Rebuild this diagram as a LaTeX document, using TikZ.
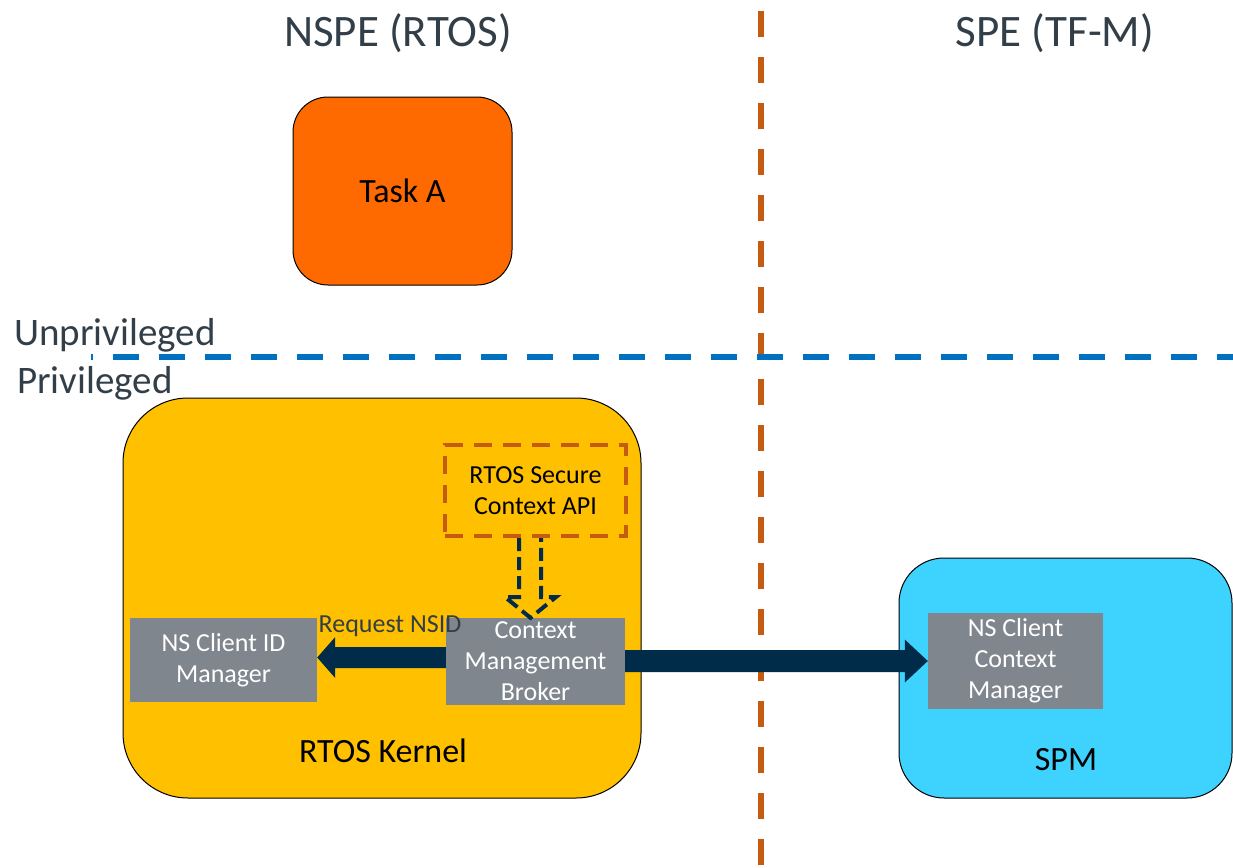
\documentclass[tikz,border=0pt]{standalone}
\usepackage{fontspec}
\setmainfont{Carlito}
\usetikzlibrary{calc}

\definecolor{titlegray}{RGB}{50,62,72}
\definecolor{taskorange}{RGB}{255,106,0}
\definecolor{kernelyellow}{RGB}{255,192,0}
\definecolor{spmcyan}{RGB}{62,210,255}
\definecolor{boxgray}{RGB}{127,134,142}
\definecolor{navy}{RGB}{0,43,73}
\definecolor{rustorange}{RGB}{197,90,17}
\definecolor{lineblue}{RGB}{0,112,192}

% horizontal block arrow: #1 start, #2 tip, #3 shaft half-height,
% #4 head length, #5 head half-height
\newcommand\blockarrow[5]{%
  \fill[navy] ($(#1)+(0,-#3)$) -- ($(#2)!#4!(#1)+(0,-#3)$)
    -- ($(#2)!#4!(#1)+(0,-#5)$) -- (#2)
    -- ($(#2)!#4!(#1)+(0,#5)$) -- ($(#2)!#4!(#1)+(0,#3)$)
    -- ($(#1)+(0,#3)$) -- cycle;}

\begin{document}
\begin{tikzpicture}[x=1pt,y=-1pt,
  heading/.style={text=titlegray,font=\fontsize{45}{52}\selectfont,inner sep=0pt,anchor=base},
  sidelabel/.style={text=titlegray,font=\fontsize{39}{45}\selectfont,inner sep=0pt,anchor=base west},
  region/.style={draw=black,line width=1pt},
  regionlabel/.style={font=\fontsize{34}{40}\selectfont,inner sep=0pt,anchor=base},
  graybox/.style={fill=boxgray,text=white,font=\fontsize{26}{31}\selectfont,align=center,inner sep=0pt},
  apibox/.style={draw=rustorange,line width=4pt,dash pattern=on 18pt off 11pt,
    font=\fontsize{26}{31}\selectfont,align=center,inner sep=0pt},
  privline/.style={draw=lineblue,line width=6pt,dash pattern=on 26pt off 20pt,dash phase=24pt},
  worldline/.style={draw=rustorange,line width=6pt,dash pattern=on 26pt off 20pt},
  hollowarrow/.style={draw=navy,line width=4pt,dash pattern=on 13pt off 6pt,line join=miter},
  arrowlabel/.style={text=titlegray,font=\fontsize{26}{31}\selectfont,inner sep=0pt,anchor=base}
]
\useasboundingbox (0,0) rectangle (1233,867);

% world separators
\draw[worldline] (761,11) -- (761,867);
\draw[privline] (91,357) -- (1233,357);

% headings
\node[heading] (nspe) at (398,47) {NSPE (RTOS)};
\node[heading] (spe) at (1055,47) {SPE (TF-M)};
\node[sidelabel] (unpriv) at (14,345) {Unprivileged};
\node[sidelabel] (priv) at (17,393) {Privileged};

% task
\node[region,fill=taskorange,minimum width=219pt,minimum height=188pt,rounded corners=35pt,
  font=\fontsize{34}{40}\selectfont] (taska) at (402.5,191) {Task A};

% RTOS kernel
\node[region,fill=kernelyellow,minimum width=518pt,minimum height=400pt,rounded corners=65pt]
  (kernel) at (382,598) {};
\node[regionlabel] (kernellabel) at (383,762) {RTOS Kernel};

% SPM
\node[region,fill=spmcyan,minimum width=333pt,minimum height=240pt,rounded corners=45pt]
  (spm) at (1065.5,678) {};
\node[regionlabel] (spmlabel) at (1066,770) {SPM};

% components
\node[apibox,minimum width=181pt,minimum height=91pt] (api) at (535.5,490.5)
  {RTOS Secure\\Context API};
\node[graybox,minimum width=187pt,minimum height=84pt] (idmgr) at (223.5,660)
  {NS Client ID\\Manager};
\node[graybox,minimum width=179pt,minimum height=87pt] (broker) at (535.5,661.5)
  {Context\\Management\\Broker};
\node[graybox,minimum width=175pt,minimum height=96pt] (ncm) at (1015.5,661)
  {NS Client\\Context\\Manager};

% hollow dashed arrow from the API down to the broker
\draw[hollowarrow] ($(api.south)+(-16.5,0)$) -- ($(api.south)+(-16.5,59)$)
  -- ($(api.south)+(-30.5,59)$) -- ($(broker.north)+(-5,0)$)
  -- ($(api.south)+(20.5,59)$) -- ($(api.south)+(5.5,59)$)
  -- ($(api.south)+(5.5,0)$);

% block arrows
\coordinate (reqS) at ($(broker.west)+(0,-4)$);
\coordinate (reqT) at (reqS -| idmgr.east);
\coordinate (ctxS) at ($(broker.east)+(0,-0.5)$);
\coordinate (ctxT) at (ctxS -| ncm.west);
\blockarrow{reqS}{reqT}{10.5}{18pt}{20.5}
\blockarrow{ctxS}{ctxT}{11}{23pt}{21.5}
\node[arrowlabel] (reqlabel) at (390,632) {Request NSID};

\end{tikzpicture}
\end{document}
